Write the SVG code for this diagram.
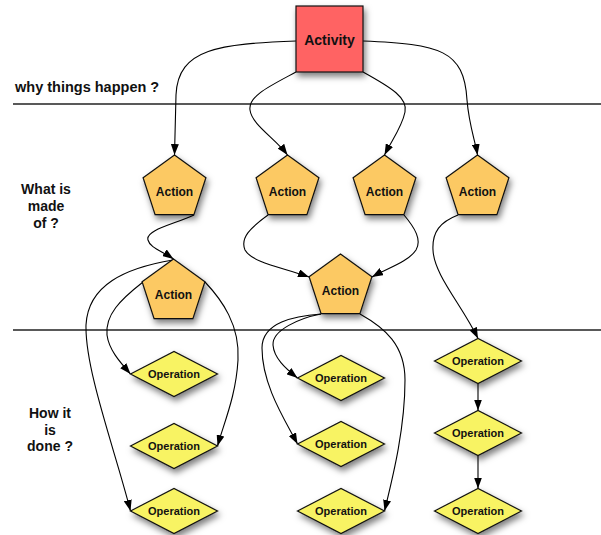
<svg xmlns="http://www.w3.org/2000/svg" xmlns:xlink="http://www.w3.org/1999/xlink" width="601" height="535" viewBox="0 0 601 535">
<style>
  .lbl { font-family: "Liberation Sans", Arial, sans-serif; font-weight: bold; fill: #111; }
  .side { font-size: 14px; text-anchor: middle; }
  .act { font-size: 12px; text-anchor: middle; }
  .op { font-size: 11px; text-anchor: middle; }
  .pent { fill: #FCC963; stroke: #111; stroke-width: 1.2; filter: url(#sh); }
  .dia { fill: #F8F364; stroke: #111; stroke-width: 1.2; filter: url(#sh); }
  .edge { fill: none; stroke: #000; stroke-width: 1.1; marker-end: url(#arr); }
  .sep { stroke: #222; stroke-width: 1.4; }
</style>
<defs>
  <filter id="sh" x="-30%" y="-30%" width="170%" height="180%">
    <feDropShadow dx="2" dy="4" stdDeviation="3" flood-color="#000" flood-opacity="0.5"/>
  </filter>
  <marker id="arr" markerUnits="userSpaceOnUse" markerWidth="11" markerHeight="8" refX="11" refY="4" orient="auto">
    <path d="M0,0 L11,4 L0,8 z" fill="#000"/>
  </marker>
  <polygon id="pentShape" points="0,0 31.4,22.8 19.4,59.7 -19.4,59.7 -31.4,22.8"/>
  <polygon id="diaShape" points="-43.5,0 0,-22.5 43.5,0 0,22.5"/>
</defs>
<rect width="601" height="535" fill="#fff"/>

<g id="separators">
  <line class="sep" x1="13" y1="104" x2="601" y2="104"/>
  <line class="sep" x1="13" y1="330" x2="601" y2="330"/>
</g>

<g id="labels">
  <text class="lbl" x="15" y="92" font-size="14.5">why things happen ?</text>
  <text class="lbl side" x="46" y="194">What is</text>
  <text class="lbl side" x="46" y="211">made</text>
  <text class="lbl side" x="46" y="228">of ?</text>
  <text class="lbl side" x="50" y="418">How it</text>
  <text class="lbl side" x="50" y="435">is</text>
  <text class="lbl side" x="50" y="451">done ?</text>
</g>

<g id="connectors">
  <path class="edge" d="M296,41 C220,44 178,48 176,95 C175.5,120 175,140 174.5,155"/>
  <path class="edge" d="M363,41 C440,44 464,50 467,100 C469,125 475,140 477.5,155"/>
  <path class="edge" d="M296,72 C270,86 248,96 250,110 C252,125 275,138 287.5,155"/>
  <path class="edge" d="M363,72 C392,88 408,98 405,112 C402,127 392,140 384.5,155"/>
  <path class="edge" d="M194,215 C175,224 145,230 148,240 C150,248 162,251 173.5,259"/>
  <path class="edge" d="M268,215 C250,228 240,238 245,250 C252,263 285,268 309,277"/>
  <path class="edge" d="M404,215 C415,228 422,240 416,250 C408,262 388,268 372,277"/>
  <path class="edge" d="M458,215 C440,222 432,232 433,250 C434,275 462,305 478,338.5"/>
  <path class="edge" d="M173,260 C125,268 88,285 86,325 C85,370 115,450 130.5,511"/>
  <path class="edge" d="M143,282 C120,300 105,315 107,335 C109,350 120,362 130.5,374"/>
  <path class="edge" d="M205,282 C222,300 240,325 238,360 C236,395 225,420 217.5,446"/>
  <path class="edge" d="M321,314 C295,316 262,322 262,348 C262,385 285,420 297.5,444"/>
  <path class="edge" d="M321,314 C300,318 272,330 273,345 C274,358 285,368 297.5,378"/>
  <path class="edge" d="M360,314 C385,328 405,345 405,380 C405,430 392,480 384.5,511"/>
  <path class="edge" d="M478,383.5 L478,410.5"/>
  <path class="edge" d="M478,455.5 L478,488.5"/>
</g>

<g id="activity">
  <rect x="296" y="6" width="67" height="66" fill="#FF6363" stroke="#111" stroke-width="1.2" filter="url(#sh)"/>
  <text class="lbl" x="329.5" y="44.5" font-size="14" text-anchor="middle">Activity</text>
</g>

<g id="action1"><use href="#pentShape" class="pent" x="174.5" y="155"/><text class="lbl act" x="174.5" y="196">Action</text></g>
<g id="action2"><use href="#pentShape" class="pent" x="287.5" y="155"/><text class="lbl act" x="287.5" y="196">Action</text></g>
<g id="action3"><use href="#pentShape" class="pent" x="384.5" y="155"/><text class="lbl act" x="384.5" y="196">Action</text></g>
<g id="action4"><use href="#pentShape" class="pent" x="477.5" y="155"/><text class="lbl act" x="477.5" y="196">Action</text></g>
<g id="action5"><use href="#pentShape" class="pent" x="173.5" y="259"/><text class="lbl act" x="173.5" y="299">Action</text></g>
<g id="action6"><use href="#pentShape" class="pent" x="340.5" y="254"/><text class="lbl act" x="340.5" y="295">Action</text></g>

<g id="op1"><use href="#diaShape" class="dia" x="174" y="374"/><text class="lbl op" x="174" y="378">Operation</text></g>
<g id="op2"><use href="#diaShape" class="dia" x="174" y="446"/><text class="lbl op" x="174" y="450">Operation</text></g>
<g id="op3"><use href="#diaShape" class="dia" x="174" y="511"/><text class="lbl op" x="174" y="515">Operation</text></g>
<g id="op4"><use href="#diaShape" class="dia" x="341" y="378"/><text class="lbl op" x="341" y="382">Operation</text></g>
<g id="op5"><use href="#diaShape" class="dia" x="341" y="444"/><text class="lbl op" x="341" y="448">Operation</text></g>
<g id="op6"><use href="#diaShape" class="dia" x="341" y="511"/><text class="lbl op" x="341" y="515">Operation</text></g>
<g id="op7"><use href="#diaShape" class="dia" x="478" y="361"/><text class="lbl op" x="478" y="365">Operation</text></g>
<g id="op8"><use href="#diaShape" class="dia" x="478" y="433"/><text class="lbl op" x="478" y="437">Operation</text></g>
<g id="op9"><use href="#diaShape" class="dia" x="478" y="511"/><text class="lbl op" x="478" y="515">Operation</text></g>
</svg>
